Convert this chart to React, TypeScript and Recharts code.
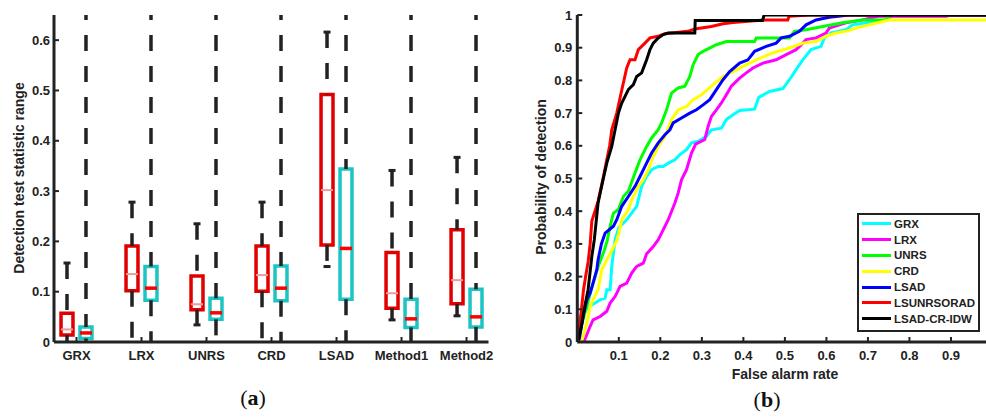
import React from 'react';
import {
  ComposedChart,
  LineChart,
  Line,
  Scatter,
  XAxis,
  YAxis,
  ReferenceArea,
  ReferenceLine,
} from 'recharts';

// ---- panel (a): box plots ----
const categories = ['GRX', 'LRX', 'UNRS', 'CRD', 'LSAD', 'Method1', 'Method2'];

// first (red) box of each pair
const redQ1 = [0.014, 0.102, 0.064, 0.101, 0.193, 0.067, 0.076];
const redMedian = [0.025, 0.135, 0.075, 0.133, 0.302, 0.097, 0.123];
const redQ3 = [0.057, 0.191, 0.131, 0.191, 0.492, 0.178, 0.223];
const redLow = [0, 0, 0.034, 0, 0.15, 0.044, 0.052];
const redHigh = [0.157, 0.278, 0.235, 0.278, 0.616, 0.341, 0.367];

// second (cyan) box of each pair, whiskers run off the top of the axes
const cyanQ1 = [0.007, 0.083, 0.045, 0.082, 0.085, 0.029, 0.03];
const cyanMedian = [0.018, 0.107, 0.058, 0.107, 0.186, 0.046, 0.05];
const cyanQ3 = [0.03, 0.15, 0.087, 0.151, 0.344, 0.085, 0.105];
const cyanLow = [0, 0, 0, 0, 0, 0, 0];
const cyanHigh = [0.65, 0.65, 0.65, 0.65, 0.65, 0.65, 0.65];

const boxYTicks = [0, 0.1, 0.2, 0.3, 0.4, 0.5, 0.6];
const boxXTicks = [1, 2, 3, 4, 5, 6, 7];

// ---- panel (b): ROC curves, [false alarm rate, probability of detection] ----
const grxRoc = [
  [0, 0], [0.002, 0.068], [0.012, 0.09], [0.03, 0.11], [0.043, 0.119], [0.055, 0.129],
  [0.067, 0.134], [0.071, 0.16], [0.079, 0.16], [0.083, 0.231], [0.087, 0.272], [0.091, 0.313],
  [0.1, 0.35], [0.119, 0.374], [0.143, 0.415], [0.155, 0.476], [0.167, 0.506], [0.179, 0.527],
  [0.195, 0.537], [0.207, 0.537], [0.219, 0.547], [0.235, 0.557], [0.247, 0.573], [0.263, 0.588],
  [0.275, 0.609], [0.291, 0.614], [0.311, 0.629], [0.323, 0.649], [0.347, 0.654], [0.359, 0.68],
  [0.375, 0.695], [0.391, 0.708], [0.427, 0.712], [0.437, 0.748], [0.463, 0.766], [0.495, 0.775],
  [0.511, 0.802], [0.527, 0.833], [0.543, 0.863], [0.563, 0.894], [0.587, 0.904], [0.595, 0.93],
  [0.611, 0.945], [0.647, 0.955], [0.663, 0.97], [0.695, 0.976], [0.744, 0.985], [0.76, 1], [1, 1],
];
const lrxRoc = [
  [0, 0], [0.008, 0], [0.018, 0.007], [0.031, 0.048], [0.038, 0.068], [0.055, 0.078],
  [0.071, 0.094], [0.079, 0.119], [0.091, 0.139], [0.103, 0.17], [0.119, 0.18], [0.131, 0.211],
  [0.143, 0.231], [0.159, 0.241], [0.167, 0.27], [0.183, 0.292], [0.195, 0.313], [0.203, 0.333],
  [0.219, 0.374], [0.235, 0.425], [0.243, 0.456], [0.251, 0.496], [0.263, 0.527], [0.275, 0.578],
  [0.285, 0.605], [0.307, 0.619], [0.315, 0.659], [0.323, 0.69], [0.335, 0.71], [0.347, 0.731],
  [0.359, 0.756], [0.371, 0.782], [0.391, 0.807], [0.407, 0.823], [0.423, 0.838], [0.447, 0.853],
  [0.479, 0.863], [0.503, 0.879], [0.527, 0.894], [0.543, 0.914], [0.551, 0.925], [0.575, 0.93],
  [0.599, 0.945], [0.607, 0.96], [0.631, 0.97], [0.647, 0.976], [0.687, 0.985], [0.724, 0.996],
  [0.888, 0.996], [0.9, 1], [1, 1],
];
const unrsRoc = [
  [0, 0], [0.012, 0.06], [0.025, 0.12], [0.038, 0.18], [0.05, 0.23], [0.065, 0.28], [0.072, 0.31],
  [0.079, 0.354], [0.087, 0.394], [0.099, 0.405], [0.111, 0.445], [0.123, 0.461], [0.139, 0.517],
  [0.151, 0.557], [0.167, 0.598], [0.179, 0.624], [0.195, 0.649], [0.203, 0.67], [0.215, 0.71],
  [0.227, 0.761], [0.243, 0.777], [0.259, 0.782], [0.271, 0.812], [0.279, 0.848], [0.291, 0.879],
  [0.303, 0.889], [0.335, 0.909], [0.359, 0.919], [0.427, 0.919], [0.431, 0.93], [0.511, 0.93],
  [0.523, 0.95], [0.551, 0.955], [0.591, 0.965], [0.639, 0.976], [0.687, 0.985], [0.744, 0.985],
  [0.75, 1], [1, 1],
];
const crdRoc = [
  [0, 0], [0.01, 0], [0.023, 0.058], [0.031, 0.109], [0.038, 0.129], [0.05, 0.16], [0.059, 0.221],
  [0.071, 0.251], [0.083, 0.28], [0.095, 0.31], [0.1, 0.333], [0.107, 0.374], [0.123, 0.405],
  [0.131, 0.435], [0.147, 0.476], [0.159, 0.496], [0.171, 0.527], [0.183, 0.568], [0.195, 0.598],
  [0.211, 0.629], [0.227, 0.68], [0.243, 0.71], [0.263, 0.72], [0.279, 0.741], [0.299, 0.756],
  [0.327, 0.787], [0.351, 0.812], [0.375, 0.827], [0.399, 0.843], [0.431, 0.863], [0.471, 0.884],
  [0.511, 0.899], [0.543, 0.914], [0.575, 0.919], [0.599, 0.935], [0.623, 0.945], [0.647, 0.95],
  [0.671, 0.96], [0.736, 0.98], [0.751, 0.985], [1, 0.985],
];
const lsadRoc = [
  [0, 0], [0.005, 0.01], [0.014, 0.078], [0.023, 0.129], [0.031, 0.15], [0.038, 0.18],
  [0.047, 0.221], [0.05, 0.251], [0.058, 0.3], [0.067, 0.333], [0.087, 0.354], [0.095, 0.374],
  [0.107, 0.415], [0.123, 0.445], [0.139, 0.476], [0.151, 0.506], [0.163, 0.537], [0.179, 0.578],
  [0.195, 0.609], [0.211, 0.634], [0.223, 0.649], [0.231, 0.67], [0.251, 0.685], [0.271, 0.7],
  [0.287, 0.71], [0.303, 0.725], [0.319, 0.741], [0.335, 0.772], [0.351, 0.802], [0.367, 0.827],
  [0.391, 0.853], [0.411, 0.863], [0.427, 0.889], [0.455, 0.904], [0.479, 0.914], [0.491, 0.93],
  [0.511, 0.935], [0.535, 0.95], [0.551, 0.97], [0.575, 0.985], [0.607, 0.993], [0.655, 1], [1, 1],
];
const lsunrsoradRoc = [
  [0, 0], [0.005, 0.04], [0.01, 0.1], [0.015, 0.16], [0.02, 0.2], [0.026, 0.245], [0.031, 0.3],
  [0.035, 0.37], [0.05, 0.43], [0.062, 0.5], [0.071, 0.557], [0.078, 0.6], [0.083, 0.649],
  [0.095, 0.7], [0.107, 0.77], [0.119, 0.838], [0.127, 0.863], [0.139, 0.863], [0.147, 0.894],
  [0.163, 0.914], [0.175, 0.93], [0.195, 0.935], [0.211, 0.943], [0.266, 0.95], [0.283, 0.957],
  [0.323, 0.965], [0.351, 0.973], [0.375, 0.977], [0.455, 0.985], [0.507, 0.985], [0.51, 0.996],
  [0.56, 1], [1, 1],
];
const lsadCrIdwRoc = [
  [0, 0], [0.002, 0.002], [0.01, 0.05], [0.018, 0.109], [0.026, 0.16], [0.035, 0.262],
  [0.041, 0.313], [0.05, 0.425], [0.062, 0.496], [0.071, 0.547], [0.083, 0.598], [0.091, 0.649],
  [0.099, 0.7], [0.107, 0.731], [0.123, 0.772], [0.135, 0.787], [0.143, 0.812], [0.155, 0.823],
  [0.167, 0.863], [0.175, 0.894], [0.183, 0.914], [0.195, 0.93], [0.207, 0.94], [0.219, 0.945],
  [0.283, 0.945], [0.284, 0.983], [0.446, 0.983], [0.45, 1], [1, 1],
];

const rocXTicks = [0.1, 0.2, 0.3, 0.4, 0.5, 0.6, 0.7, 0.8, 0.9];
const rocYTicks = [0, 0.1, 0.2, 0.3, 0.4, 0.5, 0.6, 0.7, 0.8, 0.9, 1];

const rocSeries = [
  { name: 'GRX', color: '#00ffff', points: grxRoc },
  { name: 'LRX', color: '#ff00ff', points: lrxRoc },
  { name: 'UNRS', color: '#00ff00', points: unrsRoc },
  { name: 'CRD', color: '#ffff00', points: crdRoc },
  { name: 'LSAD', color: '#0000ff', points: lsadRoc },
  { name: 'LSUNRSORAD', color: '#ff0000', points: lsunrsoradRoc },
  { name: 'LSAD-CR-IDW', color: '#000000', points: lsadCrIdwRoc },
];

const INK = '#222';
const RED = '#e00000';
const CYAN = '#1cc4c4';
const SANS = '"Liberation Sans", Arial, sans-serif';
const tickFont = { fontFamily: SANS, fontWeight: 700, fontSize: 13, fill: INK };
const frame = { stroke: INK, strokeWidth: 3 };
const tickMark = { stroke: INK, strokeWidth: 2 };

const PAIR_OFFSET = 0.146;
const HALF_BOX = 0.092;
const WHISKER_DASH = '16 15';

function CapShape(props: any) {
  return <rect x={props.cx - 3.5} y={props.cy - 1.5} width={7} height={3} fill={INK} />;
}

function BoxChart() {
  const caps = categories.flatMap((_, i) => {
    const x = i + 1 - PAIR_OFFSET;
    const pts = [{ x, y: redHigh[i] }];
    if (redLow[i] > 0) pts.push({ x, y: redLow[i] });
    return pts;
  });

  return (
    <ComposedChart width={500} height={419} margin={{ top: 15, right: 11.5, bottom: 47, left: 14 }}>
      <XAxis
        type="number"
        dataKey="x"
        domain={[0.654, 7.338]}
        allowDataOverflow
        ticks={boxXTicks}
        interval={0}
        tickFormatter={(v: number) => categories[Math.round(v) - 1]}
        height={30}
        axisLine={frame}
        tickLine={tickMark}
        tickSize={-5}
        tickMargin={14}
        tick={tickFont}
      />
      <YAxis
        type="number"
        dataKey="y"
        domain={[0, 0.65]}
        allowDataOverflow
        ticks={boxYTicks}
        interval={0}
        width={40}
        axisLine={frame}
        tickLine={tickMark}
        tickSize={-5}
        tickMargin={9}
        tick={tickFont}
      />
      <XAxis
        xAxisId="top"
        orientation="top"
        type="number"
        domain={[0.654, 7.338]}
        allowDataOverflow
        ticks={boxXTicks}
        height={0}
        axisLine={frame}
        tickLine={tickMark}
        tickSize={-5}
        tick={false}
      />
      <YAxis
        yAxisId="right"
        orientation="right"
        type="number"
        domain={[0, 0.65]}
        allowDataOverflow
        ticks={boxYTicks}
        width={0}
        axisLine={frame}
        tickLine={tickMark}
        tickSize={-5}
        tick={false}
      />

      {categories.map((c, i) => {
        const xr = i + 1 - PAIR_OFFSET;
        const xc = i + 1 + PAIR_OFFSET;
        return (
          <React.Fragment key={c}>
            <ReferenceLine segment={[{ x: xr, y: redHigh[i] }, { x: xr, y: redQ3[i] }]} stroke={INK} strokeWidth={3.5} strokeDasharray={WHISKER_DASH} />
            <ReferenceLine segment={[{ x: xr, y: redQ1[i] }, { x: xr, y: redLow[i] }]} stroke={INK} strokeWidth={3.5} strokeDasharray={WHISKER_DASH} />
            <ReferenceLine segment={[{ x: xc, y: cyanHigh[i] }, { x: xc, y: cyanQ3[i] }]} stroke={INK} strokeWidth={3.5} strokeDasharray={WHISKER_DASH} strokeDashoffset={11} />
            <ReferenceLine segment={[{ x: xc, y: cyanQ1[i] }, { x: xc, y: cyanLow[i] }]} stroke={INK} strokeWidth={3.5} strokeDasharray={WHISKER_DASH} />
            <ReferenceArea x1={xr - HALF_BOX} x2={xr + HALF_BOX} y1={redQ1[i]} y2={redQ3[i]} fill="#fff" fillOpacity={1} stroke={RED} strokeWidth={3.5} ifOverflow="visible" />
            <ReferenceArea x1={xc - HALF_BOX} x2={xc + HALF_BOX} y1={cyanQ1[i]} y2={cyanQ3[i]} fill="#fff" fillOpacity={1} stroke={CYAN} strokeWidth={3.5} ifOverflow="visible" />
            <ReferenceLine segment={[{ x: xr - HALF_BOX, y: redMedian[i] }, { x: xr + HALF_BOX, y: redMedian[i] }]} stroke="#f29a9a" strokeWidth={2} />
            <ReferenceLine segment={[{ x: xc - HALF_BOX, y: cyanMedian[i] }, { x: xc + HALF_BOX, y: cyanMedian[i] }]} stroke="#ff0000" strokeWidth={3.5} />
          </React.Fragment>
        );
      })}

      <Scatter data={caps} isAnimationActive={false} shape={CapShape} />
    </ComposedChart>
  );
}

function RocChart() {
  return (
    <LineChart width={500} height={419} margin={{ top: 15, right: 7.5, bottom: 47, left: 37.3 }}>
      <XAxis
        type="number"
        dataKey="x"
        domain={[0, 1]}
        allowDataOverflow
        ticks={rocXTicks}
        interval={0}
        height={30}
        axisLine={frame}
        tickLine={tickMark}
        tickSize={-5}
        tickMargin={14}
        tick={tickFont}
      />
      <YAxis
        type="number"
        domain={[0, 1]}
        allowDataOverflow
        ticks={rocYTicks}
        interval={0}
        width={40}
        axisLine={frame}
        tickLine={tickMark}
        tickSize={-5}
        tickMargin={10}
        tick={tickFont}
      />
      <XAxis
        xAxisId="top"
        orientation="top"
        type="number"
        domain={[0, 1]}
        allowDataOverflow
        ticks={rocXTicks}
        height={0}
        axisLine={frame}
        tickLine={tickMark}
        tickSize={-5}
        tick={false}
      />
      {rocSeries.map((s) => (
        <Line
          key={s.name}
          name={s.name}
          data={s.points.map(([x, y]) => ({ x, y }))}
          dataKey="y"
          type="linear"
          stroke={s.color}
          strokeWidth={3}
          dot={false}
          activeDot={false}
          isAnimationActive={false}
        />
      ))}
    </LineChart>
  );
}

const titleStyle: React.CSSProperties = {
  position: 'absolute',
  fontFamily: SANS,
  fontWeight: 700,
  fontSize: 14,
  color: INK,
  whiteSpace: 'nowrap',
  lineHeight: 1,
};

const captionStyle: React.CSSProperties = {
  position: 'absolute',
  fontFamily: '"Liberation Serif", "DejaVu Serif", serif',
  fontSize: 22,
  color: '#111',
  whiteSpace: 'nowrap',
  lineHeight: 1,
  transform: 'translate(-50%, -50%)',
};

export default function App() {
  return (
    <div style={{ position: 'relative', width: 986, height: 419, overflow: 'hidden', background: '#fff' }}>
      <style>{'body{margin:0}'}</style>

      <div style={{ position: 'absolute', left: 0, top: 0 }}>
        <BoxChart />
      </div>
      <div style={{ position: 'absolute', left: 500, top: 0 }}>
        <RocChart />
      </div>

      <div style={{ ...titleStyle, left: 19, top: 178, transform: 'translate(-50%, -50%) rotate(-90deg)' }}>
        Detection test statistic range
      </div>
      <div style={{ ...titleStyle, left: 541, top: 177, transform: 'translate(-50%, -50%) rotate(-90deg)' }}>
        Probability of detection
      </div>
      <div style={{ ...titleStyle, left: 785, top: 374, transform: 'translate(-50%, -50%)' }}>
        False alarm rate
      </div>

      <div style={{ ...captionStyle, left: 253, top: 398 }}>
        (<b>a</b>)
      </div>
      <div style={{ ...captionStyle, left: 767, top: 400 }}>
        (<b>b</b>)
      </div>

      <div
        style={{
          position: 'absolute',
          left: 857,
          top: 213,
          width: 123,
          height: 119,
          boxSizing: 'border-box',
          border: `2.5px solid ${INK}`,
          background: '#fff',
          paddingTop: 1,
        }}
      >
        {rocSeries.map((s) => (
          <div key={s.name} style={{ display: 'flex', alignItems: 'center', height: 15.8 }}>
            <span style={{ display: 'inline-block', width: 29, height: 3, background: s.color, marginLeft: 3, marginRight: 3 }} />
            <span style={{ fontFamily: SANS, fontWeight: 700, fontSize: 11.5, color: INK }}>{s.name}</span>
          </div>
        ))}
      </div>
    </div>
  );
}
